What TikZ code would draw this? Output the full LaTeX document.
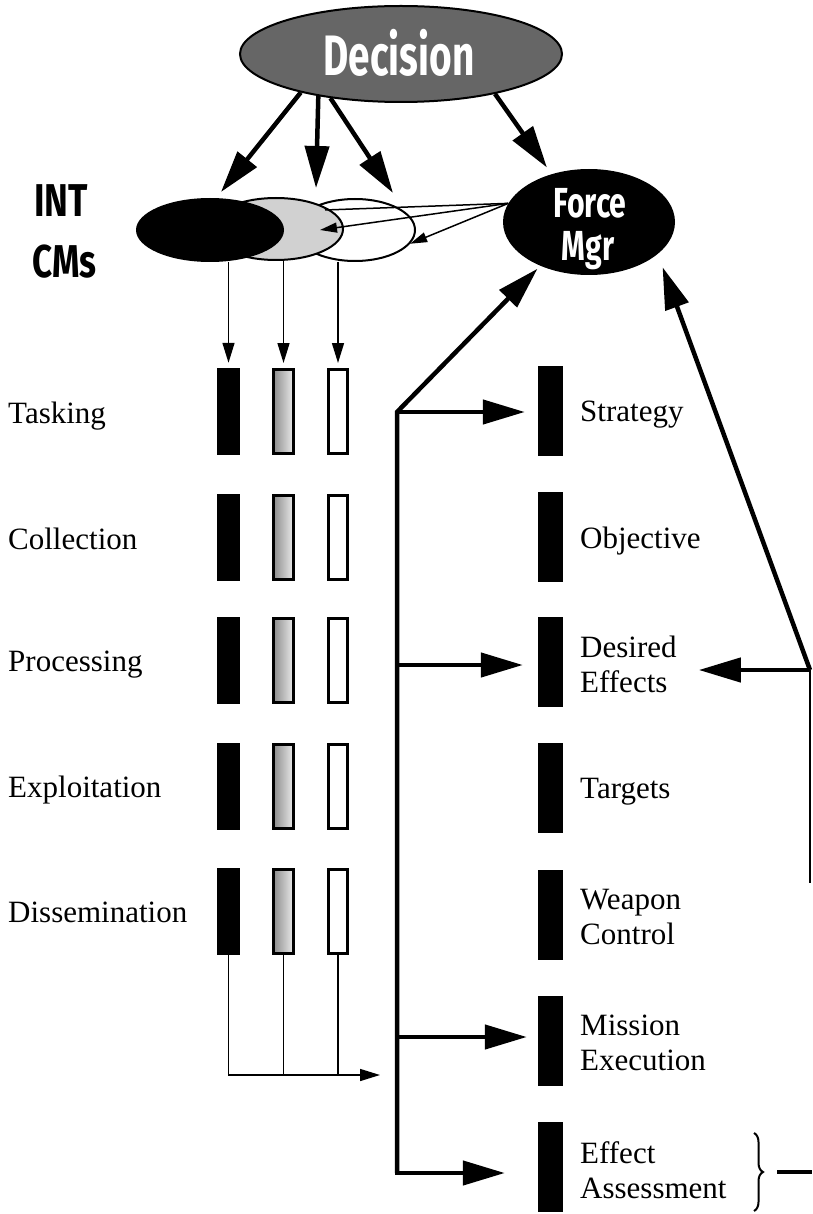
\documentclass[tikz,border=0pt]{standalone}
\usepackage{fontspec}
\setmainfont{Liberation Serif}
\newfontfamily\headfont{Fira Sans}
\usetikzlibrary{arrows.meta,decorations.pathreplacing,shapes.geometric}
\tikzset{
 bigarrow/.style={line width=4.5pt,-{Triangle[length=42pt,width=24pt]}},
 smallarrow/.style={line width=1.5pt,-{Triangle[length=20pt,width=12pt]}},
 finearrow/.style={line width=1.5pt,-{Triangle[length=17pt,width=10pt]}},
 thinline/.style={line width=1.5pt},
 blackbar/.style={rectangle,fill=black,inner sep=0pt,minimum width=23pt,minimum height=87pt},
 greybar/.style={rectangle,draw=black,line width=3pt,left color=black!45,right color=black!8,inner sep=0pt,minimum width=20pt,minimum height=84pt},
 whitebar/.style={rectangle,draw=black,line width=3pt,fill=white,inner sep=0pt,minimum width=19pt,minimum height=84pt},
 rightbar/.style={rectangle,fill=black,inner sep=0pt,minimum width=25pt,minimum height=90pt},
 lab/.style={inner sep=0pt,font=\fontsize{31}{35}\selectfont,align=left,anchor=north west},
 head/.style={inner sep=0pt,font=\headfont\bfseries},
 oval/.style={ellipse,inner sep=0pt},
}
\begin{document}
\begin{tikzpicture}[x=1pt,y=-1pt]
\useasboundingbox (0,0) rectangle (812,1214);

% Decision
\node[oval,draw=black,line width=2pt,fill=black!60,minimum width=322pt,minimum height=96pt] (dec) at (401,54) {};
\node[head,text=white,font=\headfont\bfseries\fontsize{57}{57}\selectfont] (dectext) at (399,53) {\scalebox{0.68}[1]{Decision}};

% INT CMs ellipses
\node[oval,draw=black,line width=2pt,fill=white,minimum width=120pt,minimum height=62pt] (whiteell) at (355,230) {};
\node[oval,draw=black,line width=2pt,fill=black!18,minimum width=134pt,minimum height=62pt] (greyell) at (276,229) {};
\node[oval,fill=black,minimum width=148pt,minimum height=64pt] (blackell) at (210,230) {};

% Force Mgr
\node[oval,fill=black,minimum width=172pt,minimum height=106pt] (fm) at (589,222) {};
\node[head,text=white,anchor=base,font=\headfont\bfseries\fontsize{42}{42}\selectfont] (fmtop) at (590,218) {\scalebox{0.72}[1]{Force}};
\node[head,text=white,anchor=base,font=\headfont\bfseries\fontsize{42}{42}\selectfont] (fmbot) at (588,261) {\scalebox{0.72}[1]{Mgr}};

% INT CMs label
\node[head,anchor=base west,font=\headfont\bfseries\fontsize{46}{46}\selectfont] (int) at (34,217) {\scalebox{0.78}[1]{INT}};
\node[head,anchor=base west,font=\headfont\bfseries\fontsize{46}{46}\selectfont] (cms) at (32,278) {\scalebox{0.76}[1]{CMs}};

% Decision arrows
\coordinate (d1) at (221,192);
\coordinate (d2) at (316,188);
\coordinate (d3) at (393,193);
\draw[bigarrow] (dec.201) -- (d1);
\draw[bigarrow] (dec.207) -- (d2);
\draw[bigarrow] (dec.212) -- (d3);
\draw[bigarrow,shorten >=8pt] (dec.337) -- (fm.128);

% Force Mgr to INT CMs
\coordinate (fa) at (325,210);
\coordinate (fb) at (320,230);
\draw[thinline] (fm.167) -- (fa);
\draw[finearrow] (fm.167) -- (fb);
\draw[finearrow] (fm.167) -- (whiteell.346);

% left bars
\foreach \i/\y in {1/411.5,2/537.5,3/660.5,4/786.5,5/911.5}{
  \node[blackbar] (b\i) at (228.5,\y) {};
  \node[greybar] (g\i) at (283.5,\y) {};
  \node[whitebar] (w\i) at (338,\y) {};
}
% right bars
\foreach \i/\y in {1/411,2/537,3/662,4/788,5/915,6/1041,7/1167}{
  \node[rightbar] (r\i) at (550.5,\y) {};
}

% left labels
\node[lab] (ltask) at (8,402) {Tasking};
\node[lab] (lcoll) at (8,528) {Collection};
\node[lab] (lproc) at (8,651) {Processing};
\node[lab] (lexpl) at (8,776) {Exploitation};
\node[lab] (ldiss) at (8,902) {Dissemination};

% right labels
\node[lab] (lstrat) at (580,401) {Strategy};
\node[lab] (lobj) at (580,527) {Objective};
\node[lab] (ldes) at (580,636) {Desired\\Effects};
\node[lab] (ltarg) at (580,778) {Targets};
\node[lab] (lweap) at (580,889) {Weapon\\Control};
\node[lab] (lmiss) at (580,1015) {Mission\\Execution};
\node[lab] (leff) at (580,1141) {Effect\\Assessment};

% arrows from ellipses to bars
\draw[smallarrow,shorten >=5pt] (blackell.south -| b1.north) -- (b1.north);
\draw[smallarrow,shorten >=5pt] (greyell.south -| g1.north) -- (g1.north);
\draw[smallarrow,shorten >=5pt] (whiteell.south -| w1.north) -- (w1.north);

% dissemination collection
\coordinate (coll) at (380,1075);
\draw[smallarrow] (b5.south) |- (coll);
\draw[thinline] (g5.south) -- (g5.south |- coll);
\draw[thinline] (w5.south) -- (w5.south |- coll);

% trunk
\coordinate (jt) at (397,412);
\coordinate (jb) at (397,1173);
\coordinate (j3) at (397,665);
\coordinate (j6) at (397,1037);
\draw[bigarrow,shorten >=4pt] (jb) -- (jt) -- (fm.222);
\draw[bigarrow,shorten >=33pt] (jt) -- (jb) -- (jb -| r7.west);
\draw[bigarrow,shorten >=13pt] (jt) -- (jt -| r1.west);
\draw[bigarrow,shorten >=15pt] (j3) -- (j3 -| r3.west);
\draw[bigarrow,shorten >=11pt] (j6) -- (j6 -| r6.west);

% right feedback
\coordinate (rc) at (810,670);
\coordinate (rb) at (810,883);
\draw[line width=1.2pt] (rc) -- (rb);
\draw[bigarrow,shorten >=22pt] (rc) -- (rc -| ldes.east);
\draw[bigarrow,shorten >=14pt] (rc) -- (fm.335);

% brace
\coordinate (brt) at (754,1133);
\coordinate (brb) at (754,1211);
\draw[line width=2pt,decorate,decoration={brace,amplitude=9pt}] (brt) -- (brb);
\coordinate (bl1) at (777,1172);
\coordinate (bl2) at (812,1172);
\draw[line width=4.5pt] (bl1) -- (bl2);
\end{tikzpicture}
\end{document}
